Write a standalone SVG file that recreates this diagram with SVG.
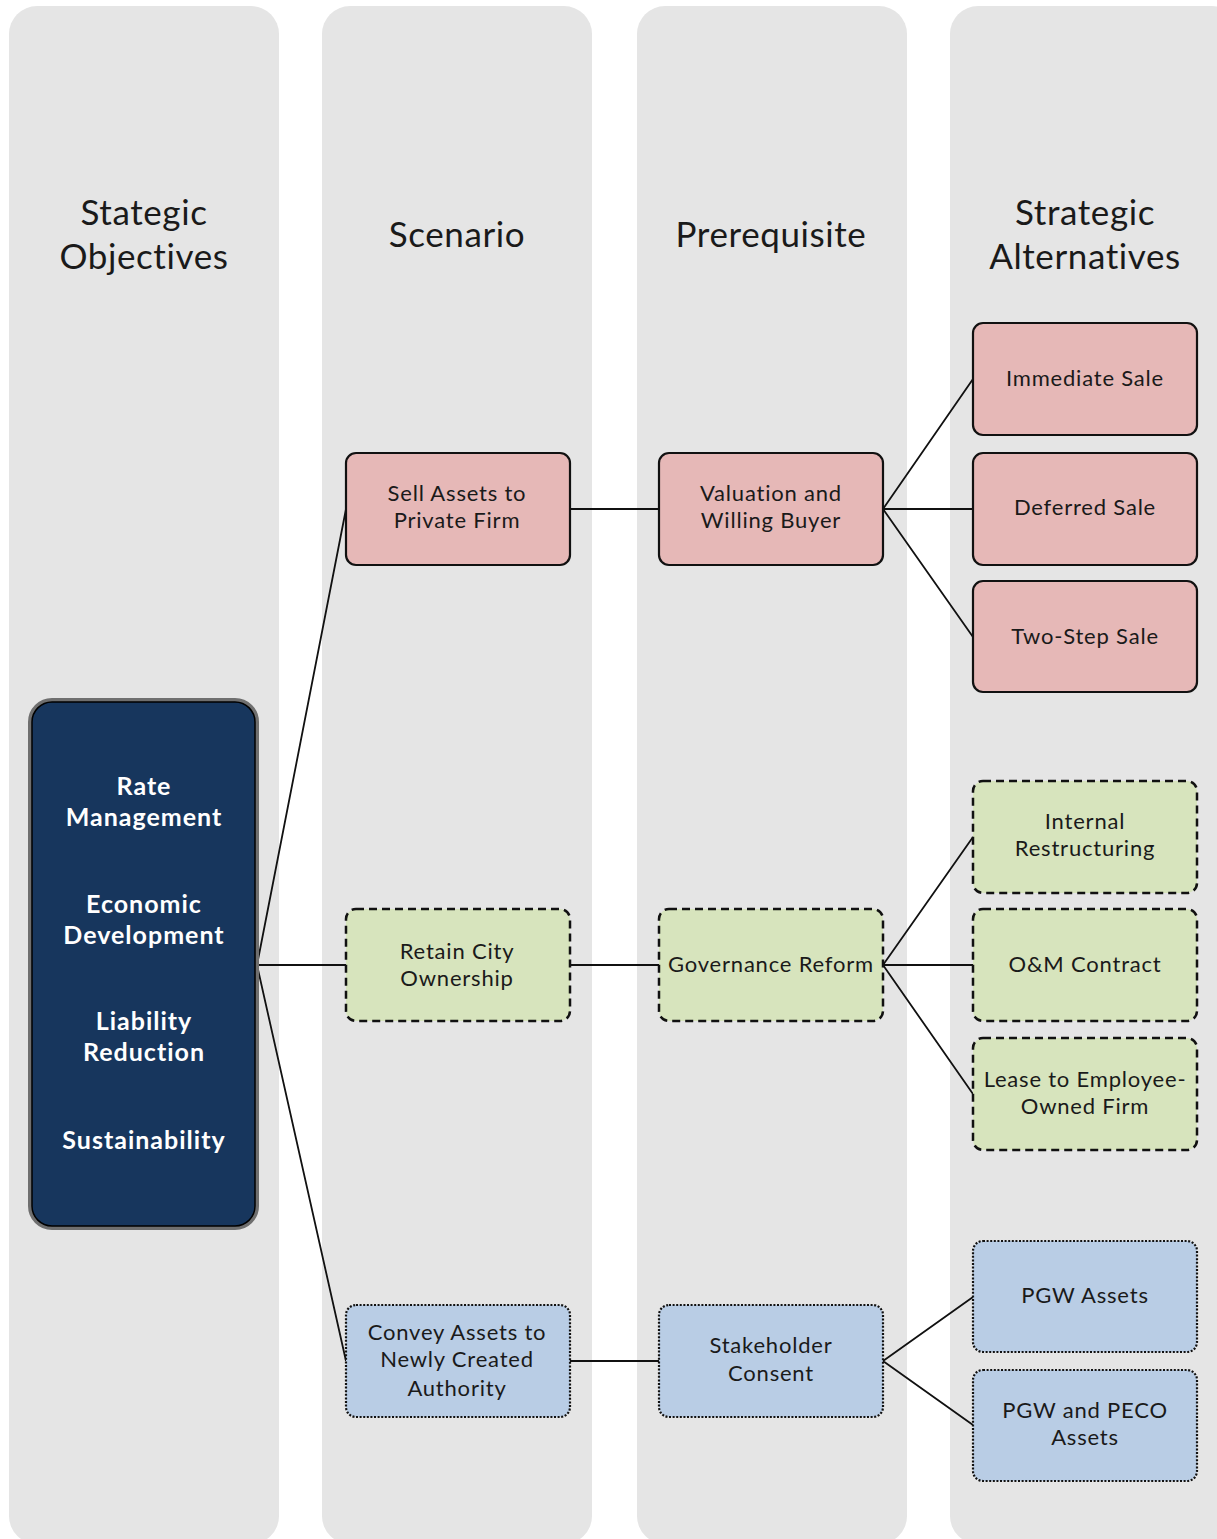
<svg xmlns="http://www.w3.org/2000/svg" width="1217" height="1539" viewBox="0 0 1217 1539">
  <style>
    .lane { fill: #e5e5e5; }
    .head { font-family: Lato, "Open Sans", "Liberation Sans", sans-serif; font-size: 35px; letter-spacing: 0.6px; fill: #1a1a1a; text-anchor: middle; }
    .lbl { font-family: Lato, "Open Sans", "Liberation Sans", sans-serif; font-size: 22px; letter-spacing: 0.8px; fill: #1a1a1a; text-anchor: middle; }
    .obj { font-family: Lato, "Open Sans", "Liberation Sans", sans-serif; font-size: 25px; letter-spacing: 1px; font-weight: bold; fill: #ffffff; text-anchor: middle; }
    .sell { fill: #e6b8b7; stroke: #111; stroke-width: 2.2; }
    .keep { fill: #d7e4bd; stroke: #111; stroke-width: 2.5; stroke-dasharray: 8 5; }
    .convey { fill: #b9cde5; stroke: #111; stroke-width: 2.2; stroke-dasharray: 2 1.6; }
    .wire { stroke: #111; stroke-width: 1.8; fill: none; }
  </style>

  <rect width="1217" height="1539" fill="#ffffff"/>

  <!-- swim lanes -->
  <g id="lanes">
    <rect class="lane" x="9" y="6" width="270" height="1538" rx="28"/>
    <rect class="lane" x="322" y="6" width="270" height="1538" rx="28"/>
    <rect class="lane" x="637" y="6" width="270" height="1538" rx="28"/>
    <rect class="lane" x="950" y="6" width="290" height="1538" rx="28"/>
    <text class="head" x="144" y="225">Stategic</text>
    <text class="head" x="144" y="269">Objectives</text>
    <text class="head" x="457" y="247">Scenario</text>
    <text class="head" x="771" y="247">Prerequisite</text>
    <text class="head" x="1085" y="225">Strategic</text>
    <text class="head" x="1085" y="269">Alternatives</text>
  </g>

  <!-- connectors -->
  <g id="connectors">
    <path class="wire" d="M257,965 L346,509 M257,965 L346,965 M257,965 L346,1361"/>
    <path class="wire" d="M570,509 L659,509 M570,965 L659,965 M570,1361 L659,1361"/>
    <path class="wire" d="M883,509 L973,379 M883,509 L973,509 M883,509 L973,637"/>
    <path class="wire" d="M883,965 L973,837 M883,965 L973,965 M883,965 L973,1094"/>
    <path class="wire" d="M883,1361 L973,1297 M883,1361 L973,1425"/>
  </g>

  <!-- objectives -->
  <g id="objectives">
    <rect x="30" y="700" width="227" height="528" rx="22" fill="#17365d" stroke="#6f6f6f" stroke-width="4"/>
    <rect x="32" y="702" width="223" height="524" rx="20" fill="none" stroke="#000" stroke-width="1.5"/>
    <text class="obj" x="144" y="795">Rate</text>
    <text class="obj" x="144" y="826">Management</text>
    <text class="obj" x="144" y="913">Economic</text>
    <text class="obj" x="144" y="944">Development</text>
    <text class="obj" x="144" y="1030">Liability</text>
    <text class="obj" x="144" y="1061">Reduction</text>
    <text class="obj" x="144" y="1149">Sustainability</text>
  </g>

  <!-- sale branch -->
  <g id="sell-assets">
    <rect class="sell" x="346" y="453" width="224" height="112" rx="10"/>
    <text class="lbl" x="457" y="501">Sell Assets to</text>
    <text class="lbl" x="457" y="528">Private Firm</text>
  </g>
  <g id="valuation">
    <rect class="sell" x="659" y="453" width="224" height="112" rx="10"/>
    <text class="lbl" x="771" y="501">Valuation and</text>
    <text class="lbl" x="771" y="528">Willing Buyer</text>
  </g>
  <g id="immediate-sale">
    <rect class="sell" x="973" y="323" width="224" height="112" rx="10"/>
    <text class="lbl" x="1085" y="386">Immediate Sale</text>
  </g>
  <g id="deferred-sale">
    <rect class="sell" x="973" y="453" width="224" height="112" rx="10"/>
    <text class="lbl" x="1085" y="515">Deferred Sale</text>
  </g>
  <g id="two-step-sale">
    <rect class="sell" x="973" y="581" width="224" height="111" rx="10"/>
    <text class="lbl" x="1085" y="644">Two-Step Sale</text>
  </g>

  <!-- retain branch -->
  <g id="retain-city">
    <rect class="keep" x="346" y="909" width="224" height="112" rx="10"/>
    <text class="lbl" x="457" y="959">Retain City</text>
    <text class="lbl" x="457" y="986">Ownership</text>
  </g>
  <g id="governance">
    <rect class="keep" x="659" y="909" width="224" height="112" rx="10"/>
    <text class="lbl" x="771" y="972">Governance Reform</text>
  </g>
  <g id="internal-restructuring">
    <rect class="keep" x="973" y="781" width="224" height="112" rx="10"/>
    <text class="lbl" x="1085" y="829">Internal</text>
    <text class="lbl" x="1085" y="856">Restructuring</text>
  </g>
  <g id="om-contract">
    <rect class="keep" x="973" y="909" width="224" height="112" rx="10"/>
    <text class="lbl" x="1085" y="972">O&amp;M Contract</text>
  </g>
  <g id="lease">
    <rect class="keep" x="973" y="1038" width="224" height="112" rx="10"/>
    <text class="lbl" x="1085" y="1087">Lease to Employee-</text>
    <text class="lbl" x="1085" y="1114">Owned Firm</text>
  </g>

  <!-- authority branch -->
  <g id="convey-assets">
    <rect class="convey" x="346" y="1305" width="224" height="112" rx="10"/>
    <text class="lbl" x="457" y="1340">Convey Assets to</text>
    <text class="lbl" x="457" y="1367">Newly Created</text>
    <text class="lbl" x="457" y="1396">Authority</text>
  </g>
  <g id="stakeholder">
    <rect class="convey" x="659" y="1305" width="224" height="112" rx="10"/>
    <text class="lbl" x="771" y="1353">Stakeholder</text>
    <text class="lbl" x="771" y="1381">Consent</text>
  </g>
  <g id="pgw-assets">
    <rect class="convey" x="973" y="1241" width="224" height="111" rx="10"/>
    <text class="lbl" x="1085" y="1303">PGW Assets</text>
  </g>
  <g id="pgw-peco">
    <rect class="convey" x="973" y="1370" width="224" height="111" rx="10"/>
    <text class="lbl" x="1085" y="1418">PGW and PECO</text>
    <text class="lbl" x="1085" y="1445">Assets</text>
  </g>
</svg>
